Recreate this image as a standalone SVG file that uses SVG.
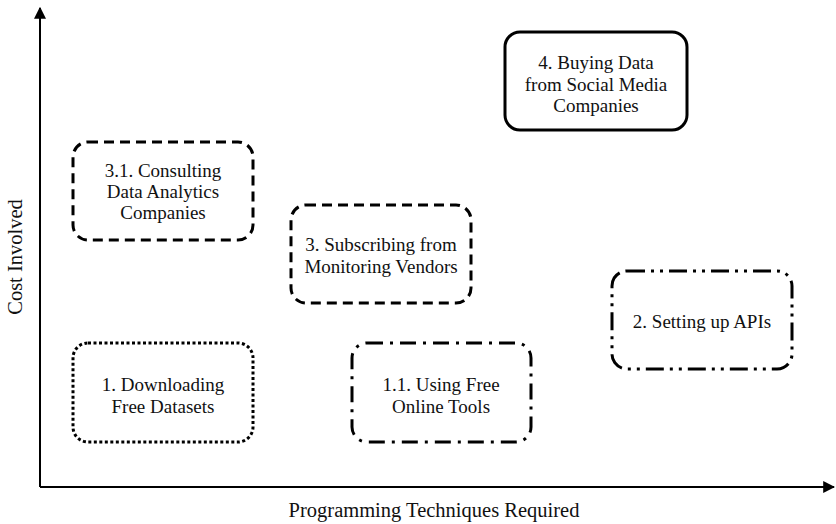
<svg xmlns="http://www.w3.org/2000/svg" width="836" height="524" viewBox="0 0 836 524">
  <style>
    .box { fill: none; stroke: #000; stroke-width: 3; }
    .dash { stroke-dasharray: 10 6; }
    .dot { stroke-dasharray: 3 2.5; }
    .dashdot { stroke-dasharray: 16 7 3 7; }
    .dashdotdot { stroke-dasharray: 18 6 3 6 3 6; }
    .lbl { font-family: "Liberation Serif", "Times New Roman", serif; font-size: 19px; fill: #111; text-anchor: middle; }
    .axis { stroke: #000; stroke-width: 2; fill: none; }
    .axlbl { font-family: "Liberation Serif", "Times New Roman", serif; font-size: 20.5px; fill: #111; text-anchor: middle; }
  </style>
  <defs>
    <marker id="arrow" viewBox="0 0 10 10" refX="9" refY="5" markerWidth="6" markerHeight="6" markerUnits="strokeWidth" orient="auto">
      <path d="M0,0 L10,5 L0,10 Z" fill="#000"/>
    </marker>
  </defs>
  <rect width="836" height="524" fill="#fff"/>

  <!-- axes -->
  <g id="connectors">
    <line class="axis" x1="40" y1="487" x2="40" y2="8" marker-end="url(#arrow)"/>
    <line class="axis" x1="40" y1="487" x2="834" y2="487" marker-end="url(#arrow)"/>
  </g>
  <text class="axlbl" x="434" y="517">Programming Techniques Required</text>
  <text class="axlbl" transform="translate(22,257) rotate(-90)">Cost Involved</text>

  <g id="node-consulting">
    <rect class="box dash" x="73" y="142" width="180" height="98" rx="15"/>
    <text class="lbl" x="163" y="177">3.1. Consulting</text>
    <text class="lbl" x="163" y="198">Data Analytics</text>
    <text class="lbl" x="163" y="219">Companies</text>
  </g>

  <g id="node-subscribing">
    <rect class="box dash" x="291" y="205" width="180" height="98" rx="15"/>
    <text class="lbl" x="381" y="251">3. Subscribing from</text>
    <text class="lbl" x="381" y="273">Monitoring Vendors</text>
  </g>

  <g id="node-downloading">
    <rect class="box dot" x="73" y="343" width="180" height="99" rx="15"/>
    <text class="lbl" x="163" y="391">1. Downloading</text>
    <text class="lbl" x="163" y="413">Free Datasets</text>
  </g>

  <g id="node-online-tools">
    <rect class="box dashdot" x="352" y="343" width="179" height="99" rx="15"/>
    <text class="lbl" x="441" y="391">1.1. Using Free</text>
    <text class="lbl" x="441" y="413">Online Tools</text>
  </g>

  <g id="node-apis">
    <rect class="box dashdotdot" x="612" y="271" width="180" height="98" rx="15"/>
    <text class="lbl" x="702" y="328">2. Setting up APIs</text>
  </g>

  <g id="node-buying">
    <rect class="box" x="505" y="32" width="182" height="98" rx="15"/>
    <text class="lbl" x="596" y="69">4. Buying Data</text>
    <text class="lbl" x="596" y="91">from Social Media</text>
    <text class="lbl" x="596" y="112">Companies</text>
  </g>
</svg>
